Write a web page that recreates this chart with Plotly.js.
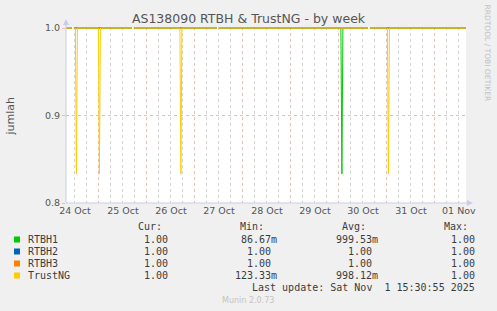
<!DOCTYPE html>
<html>
<head>
<meta charset="utf-8">
<script src="https://cdn.plot.ly/plotly-3.0.1.min.js"></script>
<style>html,body{margin:0;padding:0;background:#F0F0F0;}#chart{width:497px;height:311px;}</style>
</head>
<body>
<div id="chart"></div>
<script>
// ---- data ----
const times = [
  '2025-10-24 07:30',
  '2025-10-24 10:30', '2025-10-24 11:00', '2025-10-24 11:30',
  '2025-10-24 12:15', '2025-10-24 12:45', '2025-10-24 13:15',
  '2025-10-24 23:45', '2025-10-25 00:15', '2025-10-25 00:45',
  '2025-10-25 16:30', '2025-10-25 17:00', '2025-10-25 17:30',
  '2025-10-26 16:30', '2025-10-26 17:00', '2025-10-26 17:30',
  '2025-10-27 11:00', '2025-10-27 11:30', '2025-10-27 12:00',
  '2025-10-30 01:00', '2025-10-30 01:30', '2025-10-30 02:00',
  '2025-10-30 14:30', '2025-10-30 15:00', '2025-10-30 15:30',
  '2025-10-31 00:15', '2025-10-31 00:45', '2025-10-31 01:15',
  '2025-11-01 15:30'
];
const rtbh1 = [1, 1, null, 1, 1, 1, 1, 1, 1, 1, 1, null, 1, 1, 1, 1, 1, null, 1, 1, 0.8333, 1, 1, null, 1, 1, 1, 1, 1];
const rtbh2 = [1, 1, null, 1, 1, 1, 1, 1, 1, 1, 1, null, 1, 1, 1, 1, 1, null, 1, 1, 1, 1, 1, null, 1, 1, 1, 1, 1];
const rtbh3 = [1, 1, null, 1, 1, 1, 1, 1, 1, 1, 1, null, 1, 1, 1, 1, 1, null, 1, 1, 1, 1, 1, null, 1, 1, 1, 1, 1];
const trustng = [1, 1, null, 1, 1, 0.8333, 1, 1, 0.8333, 1, 1, null, 1, 1, 0.8333, 1, 1, null, 1, 1, 1, 1, 1, null, 1, 1, 0.8333, 1, 1];

const seriesNames = ['RTBH1', 'RTBH2', 'RTBH3', 'TrustNG'];
const seriesColors = ['#00CC00', '#0066B3', '#FF8000', '#FFCC00'];
const seriesData = [rtbh1, rtbh2, rtbh3, trustng];

const statHeaders = ['Cur:', 'Min:', 'Avg:', 'Max:'];
const curVals = ['1.00', '1.00', '1.00', '1.00'];
const minVals = ['86.67m', '1.00', '1.00', '123.33m'];
const avgVals = ['999.53m', '1.00', '1.00', '998.12m'];
const maxVals = ['1.00', '1.00', '1.00', '1.00'];

const dayLabelTimes = ['2025-10-24 12:00','2025-10-25 12:00','2025-10-26 12:00','2025-10-27 12:00','2025-10-28 12:00','2025-10-29 12:00','2025-10-30 12:00','2025-10-31 12:00','2025-11-01 12:00'];
const dayLabels = ['24 Oct','25 Oct','26 Oct','27 Oct','28 Oct','29 Oct','30 Oct','31 Oct','01 Nov'];
const midnightTimes = ['2025-10-25','2025-10-26','2025-10-27','2025-10-28','2025-10-29','2025-10-30','2025-10-31','2025-11-01'];
const yTicks = [0.8, 0.9, 1.0];
const yTickText = ['0.8', '0.9', '1.0'];

const titleText = 'AS138090 RTBH &amp; TrustNG - by week';
const yTitle = 'jumlah';
const lastUpdate = 'Last update: Sat Nov\u00A0\u00A01 15:30:55 2025';
const xRange = ['2025-10-24 07:33', '2025-11-01 15:33'];

// ---- layout helpers (pixel -> paper) ----
const L = 66, R = 466, T = 27, B = 203;
const px = x => (x - L) / (R - L);
const py = y => (B - y) / (B - T);

const traces = seriesData.map((vals, i) => ({
  type: 'scatter', mode: 'lines', x: times, y: vals, name: seriesNames[i],
  line: {color: seriesColors[i], width: 1}, connectgaps: false,
  hoverinfo: 'skip', xaxis: 'x', yaxis: 'y'
}));
// invisible trace to activate the overlay axis for midnight grid lines
traces.unshift({type: 'scatter', mode: 'lines', x: xRange, y: [null, null], xaxis: 'x2', yaxis: 'y', showlegend: false, hoverinfo: 'skip'});

const mono = {family: 'DejaVu Sans Mono', size: 10, color: '#3C3C3C'};
const annotations = [];
const shapes = [];
function txt(text, x, y, anchor, font, extra) {
  annotations.push(Object.assign({text: text, xref: 'paper', yref: 'paper', x: px(x), y: py(y),
    xanchor: anchor, yanchor: 'middle', showarrow: false, font: font}, extra || {}));
}
// header
const headerRight = [163.5, 266, 367.5, 470];
statHeaders.forEach((h, i) => txt(h, headerRight[i], 227, 'right', mono));
const rowY = [239.5, 251.5, 263.5, 275.5];
const colNum = [169.5, 272.7, 374.3, 476.7];
const unitW = 6;
function valTxt(v, col, y) {
  const hasUnit = /[a-zA-Z]$/.test(v);
  txt(v, hasUnit ? colNum[col] + unitW : colNum[col], y, 'right', mono);
}
seriesNames.forEach((n, i) => {
  const y = rowY[i];
  shapes.push({type: 'rect', xref: 'paper', yref: 'paper', x0: px(14), x1: px(20), y0: py(y - 3), y1: py(y + 3),
    fillcolor: seriesColors[i], line: {width: 0}, layer: 'above'});
  txt(n, 26, y, 'left', mono);
  valTxt(curVals[i], 0, y);
  valTxt(minVals[i], 1, y);
  valTxt(avgVals[i], 2, y);
  valTxt(maxVals[i], 3, y);
});
txt(lastUpdate, 476.7, 287.8, 'right', mono);
txt('Munin 2.0.73', 248, 300.5, 'center', {family: 'DejaVu Sans', size: 8, color: '#C4C4C4'});
txt('RRDTOOL / TOBI OETIKER', 487.5, 53, 'center', {family: 'DejaVu Sans', size: 7.5, color: '#C0C0C0'}, {textangle: 90});
txt(yTitle, 10, 115.5, 'center', {family: 'DejaVu Sans', size: 11, color: '#555'}, {textangle: -90});

// axis lines with arrows
const axisCol = '#C8CDEB';
shapes.push({type: 'line', xref: 'paper', yref: 'paper', x0: px(66), x1: px(66), y0: py(203), y1: py(24), line: {color: axisCol, width: 1}, layer: 'above'});
shapes.push({type: 'line', xref: 'paper', yref: 'paper', x0: px(66), x1: px(468), y0: py(203), y1: py(203), line: {color: axisCol, width: 1}, layer: 'above'});
shapes.push({type: 'path', xref: 'paper', yref: 'paper', layer: 'above', fillcolor: axisCol, line: {width: 0},
  path: `M ${px(63)} ${py(25)} L ${px(69)} ${py(25)} L ${px(66)} ${py(19)} Z`});
shapes.push({type: 'path', xref: 'paper', yref: 'paper', layer: 'above', fillcolor: axisCol, line: {width: 0},
  path: `M ${px(467)} ${py(200)} L ${px(467)} ${py(206)} L ${px(473)} ${py(203)} Z`});

const layout = {
  width: 497, height: 311,
  paper_bgcolor: '#F0F0F0', plot_bgcolor: '#FFFFFF',
  margin: {l: L, r: 497 - R, t: T, b: 311 - B, pad: 0},
  showlegend: false,
  title: {text: titleText, x: 0.5, xref: 'container', xanchor: 'center', y: 1 - 19 / 311, yref: 'container', yanchor: 'middle',
    font: {family: 'DejaVu Sans', size: 12.5, color: '#555'}},
  xaxis: {
    type: 'date', range: xRange, tickmode: 'array', tickvals: dayLabelTimes, ticktext: dayLabels,
    showgrid: true, gridcolor: '#D4D4D4', griddash: 'dot', gridwidth: 1,
    minor: {tick0: '2025-10-24 06:00', dtick: 43200000, showgrid: true, gridcolor: '#D4D4D4', griddash: 'dot', gridwidth: 1, ticks: ''},
    ticks: '', showline: false, zeroline: false, fixedrange: true,
    tickfont: {family: 'DejaVu Sans', size: 9.5, color: '#555'}
  },
  xaxis2: {
    type: 'date', range: xRange, overlaying: 'x', matches: 'x', tickmode: 'array', tickvals: midnightTimes,
    showticklabels: false, ticks: '', showgrid: true, gridcolor: '#ECB8B8', griddash: 'dot', gridwidth: 1,
    showline: false, zeroline: false
  },
  yaxis: {
    range: [0.8, 1.0 + 0.2 / 175], tickmode: 'array', tickvals: yTicks, ticktext: yTickText,
    showgrid: true, gridcolor: '#ECB8B8', griddash: 'dot', gridwidth: 1,
    ticks: 'outside', ticklen: 3, tickcolor: '#ECB8B8', showline: false, zeroline: false, fixedrange: true,
    tickfont: {family: 'DejaVu Sans', size: 9.5, color: '#555'}
  },
  annotations: annotations,
  shapes: shapes
};

Plotly.newPlot('chart', traces, layout, {staticPlot: true, displayModeBar: false});
</script>
</body>
</html>
